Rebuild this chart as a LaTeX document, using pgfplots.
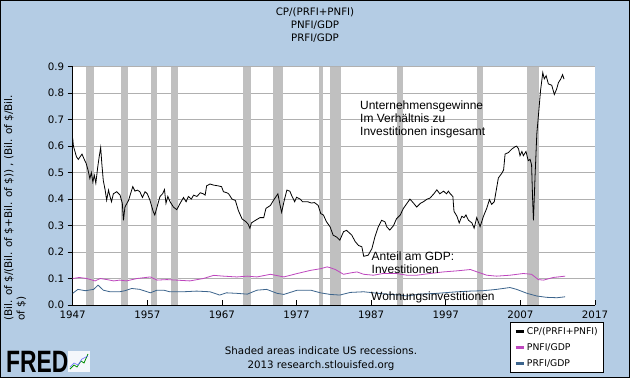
\documentclass[border=0pt]{standalone}
\usepackage{fontspec}
\setmainfont{DejaVu Sans}
\newfontfamily\arial{Liberation Sans}
\usepackage{pgfplots}
\usepackage{pgfplotstable}
\pgfplotsset{compat=1.18}
\definecolor{bgblue}{RGB}{180,204,228}
\definecolor{recgray}{RGB}{192,192,192}
\definecolor{gridgray}{RGB}{176,176,176}
\definecolor{pnfi}{RGB}{190,70,190}
\definecolor{prfi}{RGB}{60,100,140}

\pgfplotstableread{
x y
1947.0 0.629
1947.1 0.60
1947.5 0.56
1947.75 0.55
1948.0 0.56
1948.25 0.57
1948.5 0.553
1948.8 0.535
1949.05 0.51
1949.3 0.478
1949.5 0.50
1949.7 0.465
1949.9 0.49
1950.1 0.46
1950.35 0.52
1950.55 0.56
1950.75 0.595
1950.9 0.535
1951.1 0.47
1951.35 0.434
1951.55 0.396
1951.8 0.434
1952.0 0.41
1952.2 0.39
1952.45 0.42
1952.9 0.428
1953.35 0.415
1953.65 0.384
1953.8 0.32
1954.0 0.37
1954.5 0.396
1954.75 0.42
1955.05 0.447
1955.35 0.43
1955.65 0.434
1956.0 0.428
1956.35 0.406
1956.7 0.428
1957.0 0.42
1957.35 0.396
1957.8 0.352
1958.0 0.34
1958.3 0.37
1958.7 0.41
1959.05 0.42
1959.3 0.436
1959.5 0.384
1959.75 0.41
1960.05 0.39
1960.5 0.37
1960.95 0.36
1961.4 0.384
1961.85 0.406
1962.2 0.39
1962.5 0.41
1962.9 0.40
1963.2 0.415
1963.65 0.41
1964.1 0.424
1964.5 0.42
1964.75 0.415
1964.95 0.45
1965.4 0.457
1965.85 0.453
1966.5 0.45
1966.95 0.447
1967.2 0.428
1967.65 0.424
1967.9 0.42
1968.35 0.40
1968.8 0.395
1969.2 0.357
1969.7 0.325
1970.2 0.315
1970.5 0.306
1970.75 0.29
1970.95 0.31
1971.5 0.32
1972.1 0.33
1972.6 0.33
1972.9 0.365
1973.5 0.376
1973.9 0.395
1974.5 0.42
1974.8 0.376
1975.0 0.35
1975.35 0.395
1975.7 0.434
1976.1 0.43
1976.4 0.41
1976.75 0.39
1977.0 0.407
1977.5 0.40
1977.8 0.39
1978.5 0.39
1979.0 0.385
1979.4 0.387
1979.9 0.376
1980.25 0.345
1980.6 0.34
1981.0 0.315
1981.5 0.295
1981.9 0.264
1982.4 0.256
1982.8 0.245
1983.3 0.277
1983.7 0.282
1984.4 0.264
1984.85 0.24
1985.3 0.225
1985.75 0.22
1986.0 0.184
1986.6 0.188
1987.1 0.213
1987.5 0.257
1987.95 0.295
1988.4 0.32
1988.85 0.314
1989.1 0.295
1989.5 0.283
1990.0 0.30
1990.4 0.326
1990.9 0.34
1991.3 0.364
1991.8 0.384
1992.2 0.40
1992.7 0.384
1993.1 0.37
1993.6 0.384
1994.0 0.39
1994.5 0.40
1994.9 0.404
1995.4 0.42
1995.8 0.435
1996.2 0.42
1996.7 0.43
1997.1 0.42
1997.35 0.43
1997.6 0.42
1997.95 0.41
1998.1 0.354
1998.5 0.335
1998.8 0.31
1999.15 0.335
1999.45 0.33
1999.7 0.34
2000.05 0.32
2000.5 0.31
2000.8 0.29
2001.15 0.33
2001.6 0.296
2002.05 0.335
2002.5 0.366
2002.85 0.398
2003.15 0.38
2003.5 0.39
2004.05 0.48
2004.5 0.497
2004.75 0.51
2004.95 0.57
2005.4 0.576
2005.85 0.589
2006.3 0.598
2006.5 0.60
2006.75 0.59
2006.95 0.564
2007.2 0.58
2007.4 0.564
2007.75 0.58
2008.05 0.545
2008.3 0.55
2008.5 0.53
2008.65 0.39
2008.75 0.32
2008.97 0.49
2009.2 0.646
2009.4 0.71
2009.7 0.81
2010.0 0.878
2010.2 0.854
2010.45 0.866
2010.75 0.835
2011.2 0.83
2011.55 0.795
2011.85 0.815
2012.1 0.84
2012.4 0.853
2012.65 0.87
2012.85 0.853
}\cpdata

\pgfplotstableread{
x y
1947.0 0.100
1947.9 0.104
1948.9 0.100
1950.0 0.091
1950.7 0.100
1951.6 0.096
1952.5 0.091
1953.3 0.094
1954.2 0.091
1955.6 0.100
1957.4 0.106
1958.3 0.094
1959.6 0.096
1960.9 0.094
1962.7 0.091
1964.5 0.100
1965.9 0.112
1967.2 0.109
1969.0 0.106
1970.4 0.109
1971.7 0.106
1973.5 0.116
1975.3 0.106
1977.1 0.119
1978.9 0.131
1980.2 0.137
1981.1 0.144
1981.5 0.141
1982.2 0.134
1983.3 0.116
1984.2 0.121
1985.1 0.125
1986.0 0.116
1987.3 0.1125
1988.6 0.119
1990.4 0.119
1991.8 0.1125
1993.1 0.1125
1994.9 0.119
1996.7 0.125
1998.5 0.129
2000.3 0.134
2001.2 0.125
2002.5 0.1125
2003.8 0.109
2005.6 0.1125
2007.4 0.119
2008.5 0.116
2009.4 0.096
2010.1 0.094
2011.4 0.104
2013.0 0.109
}\pnfidata

\pgfplotstableread{
x y
1947.0 0.044
1947.7 0.059
1948.7 0.054
1949.8 0.059
1950.4 0.075
1951.1 0.056
1952.0 0.050
1953.3 0.050
1954.0 0.054
1954.9 0.0625
1956.0 0.059
1957.4 0.046
1958.3 0.056
1959.2 0.056
1960.0 0.050
1961.8 0.050
1963.6 0.0525
1965.4 0.050
1966.7 0.0375
1967.6 0.046
1969.0 0.044
1970.4 0.041
1971.7 0.056
1973.0 0.059
1974.4 0.044
1975.3 0.040
1977.1 0.056
1978.9 0.056
1980.2 0.046
1981.5 0.040
1982.8 0.0375
1984.2 0.0475
1986.0 0.050
1987.3 0.046
1989.1 0.041
1990.9 0.0375
1991.8 0.034
1993.5 0.041
1995.8 0.044
1998.5 0.050
2000.3 0.0525
2002.0 0.054
2003.8 0.059
2005.6 0.066
2006.5 0.059
2007.9 0.044
2009.2 0.034
2010.5 0.029
2011.9 0.0275
2013.0 0.031
}\prfidata

\begin{document}
\begin{tikzpicture}[x=1bp,y=1bp]
\fill[bgblue] (0,0) rectangle (630,378);
\draw[black, line width=1.2bp] (0.6,0.6) rectangle (629.4,377.4);
\useasboundingbox (0,0) rectangle (630,378);

\node[font=\fontsize{10.3}{12}\selectfont] at (315,366) {CP/(PRFI+PNFI)};
\node[font=\fontsize{10.3}{12}\selectfont] at (315,353) {PNFI/GDP};
\node[font=\fontsize{10.3}{12}\selectfont] at (315,340) {PRFI/GDP};

\begin{axis}[
  at={(72.7bp,73bp)}, anchor=south west,
  scale only axis, width=522.3bp, height=238.3bp,
  xmin=1947, xmax=2017, ymin=0, ymax=0.9,
  axis background/.style={fill=white},
  axis x line*=bottom, axis y line*=left,
  axis line style={black, line width=0.8bp, -},
  xtick={1947,1957,1967,1977,1987,1997,2007,2017},
  xticklabels={1947,1957,1967,1977,1987,1997,2007,2017},
  ytick={0,0.1,0.2,0.3,0.4,0.5,0.6,0.7,0.8,0.9},
  yticklabels={0.0,0.1,0.2,0.3,0.4,0.5,0.6,0.7,0.8,0.9},
  xtick align=inside, ytick align=outside,
  major tick length=5bp,
  tick style={black, line width=0.8bp},
  ymajorgrids, major grid style={gridgray, line width=0.8bp},
  tick label style={font=\fontsize{10.3}{12}\selectfont},
  x tick label style={yshift=-2.5bp},
  y tick label style={xshift=0bp},
  legend style={at={(0.8373,-0.0713)}, anchor=north west,
    draw=black, line width=0.8bp, fill=white,
    font=\fontsize{9.3}{11}\selectfont,
    inner xsep=4bp, inner ysep=3bp, row sep=3.5bp,
    legend cell align=left},
  legend image code/.code={\draw[#1, line width=2.5bp] (0bp,0bp) -- (8bp,0bp);},
]
% recessions
\addplot[fill=recgray, draw=none, forget plot] coordinates {(1948.78,0.9) (1949.81,0.9)} \closedcycle;
\addplot[fill=recgray, draw=none, forget plot] coordinates {(1953.47,0.9) (1954.37,0.9)} \closedcycle;
\addplot[fill=recgray, draw=none, forget plot] coordinates {(1957.50,0.9) (1958.26,0.9)} \closedcycle;
\addplot[fill=recgray, draw=none, forget plot] coordinates {(1960.18,0.9) (1961.07,0.9)} \closedcycle;
\addplot[fill=recgray, draw=none, forget plot] coordinates {(1969.83,0.9) (1970.86,0.9)} \closedcycle;
\addplot[fill=recgray, draw=none, forget plot] coordinates {(1973.80,0.9) (1975.15,0.9)} \closedcycle;
\addplot[fill=recgray, draw=none, forget plot] coordinates {(1980.00,0.9) (1980.50,0.9)} \closedcycle;
\addplot[fill=recgray, draw=none, forget plot] coordinates {(1981.50,0.9) (1982.96,0.9)} \closedcycle;
\addplot[fill=recgray, draw=none, forget plot] coordinates {(1990.43,0.9) (1991.23,0.9)} \closedcycle;
\addplot[fill=recgray, draw=none, forget plot] coordinates {(2001.20,0.9) (2002.00,0.9)} \closedcycle;
\addplot[fill=recgray, draw=none, forget plot] coordinates {(2007.90,0.9) (2009.47,0.9)} \closedcycle;

\addplot[black, line width=0.8bp, mark=none] table[x=x,y=y] {\cpdata};
\addlegendentry{CP/(PRFI+PNFI)}
\addplot[pnfi, line width=0.8bp, mark=none] table[x=x,y=y] {\pnfidata};
\addlegendentry{PNFI/GDP}
\addplot[prfi, line width=0.8bp, mark=none] table[x=x,y=y] {\prfidata};
\addlegendentry{PRFI/GDP}
\end{axis}

% y label
\node[rotate=90, anchor=north west, align=left, inner sep=0pt,
  font=\fontsize{10.5}{12.5}\selectfont] at (4,57)
  {(Bil. of \$/(Bil. of \$+Bil. of \$)) , (Bil. of \$/Bil.\\of \$)};

% annotations
\node[anchor=north west, align=left, inner sep=0pt,
  font=\arial\fontsize{12}{12.8}\selectfont] at (360,277)
  {Unternehmensgewinne\\Im Verh\"altnis zu\\Investitionen insgesamt};
\node[anchor=north west, align=left, inner sep=0pt,
  font=\arial\fontsize{12}{12.8}\selectfont] at (371.5,126.5)
  {Anteil am GDP:\\Investitionen};
\node[anchor=north west, align=left, inner sep=0pt,
  font=\arial\fontsize{12}{12.8}\selectfont] at (371,86)
  {Wohnungsinvestitionen};

% footer
\node[font=\fontsize{10.3}{12}\selectfont] at (321,27) {Shaded areas indicate US recessions.};
\node[font=\fontsize{10.3}{12}\selectfont] at (321,12.5) {2013 research.stlouisfed.org};

% FRED logo
\node[anchor=south west, inner sep=0pt, xscale=0.74,
  font=\arial\bfseries\fontsize{31}{31}\selectfont] at (6,5.5) {FRED};
\fill[white!85!bgblue] (68,6) rectangle (90,27);
\draw[green!55!black, line width=0.8bp] (70,9) -- (74,13) -- (77,11) -- (81,17) -- (84,15) -- (88,24);
\draw[blue!60!white, line width=0.6bp] (70,11) -- (74,15) -- (78,13) -- (82,19) -- (88,22);
\end{tikzpicture}
\end{document}
